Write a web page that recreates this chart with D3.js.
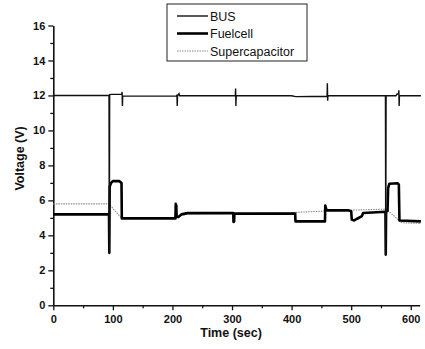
<!DOCTYPE html>
<html>
<head>
<meta charset="utf-8">
<script src="https://cdn.jsdelivr.net/npm/d3@7"></script>
<style>
  body { margin: 0; background: #fff; }
  text { font-family: "Liberation Sans", Arial, sans-serif; fill: #111; }
</style>
</head>
<body>
<div id="chart"></div>
<script>
// series: [time (sec), voltage (V)]
const busData = [[0,12.0],[93.5,12.0],[94,3.0],[94.6,12.05],[98,12.06],[115,12.06],[115.5,12.2],[116,11.4],[116.5,11.96],
  [207,11.96],[207.5,12.05],[208,11.4],[208.5,11.98],[211,12.1],[212,11.98],[305.5,11.98],[306,12.4],[306.5,11.4],[307,11.98],
  [400,11.98],[407,11.93],[459.5,11.95],[460,12.7],[460.5,11.7],[461,11.98],[557.5,11.98],[558,2.9],[558.6,11.98],
  [575,11.98],[577,12.08],[579.5,12.08],[580,12.3],[580.5,11.4],[581,11.98],[617,11.98]];
const fuelcellData = [[0,5.2],[93.5,5.2],[94,3.0],[94.6,6.8],[97,7.0],[100,7.1],[111,7.1],[114.5,7.0],[115,4.97],
  [205,4.97],[205.5,5.8],[206.5,5.7],[207,5.05],[210,5.05],[215,5.2],[225,5.27],[302,5.27],[302.5,4.76],[303.5,4.8],[304,5.24],
  [406,5.24],[406.5,4.8],[456,4.8],[456.5,5.7],[458,5.5],[460,5.43],[495,5.43],[500,5.38],[501,4.9],[505,4.85],[510,4.95],
  [518,5.1],[520,5.28],[557.5,5.35],[558,2.9],[558.6,5.35],[561,5.4],[562,6.7],[564,6.95],[578,6.98],[580,6.9],[581,4.85],[617,4.8]];
const supercapData = [[0,5.8],[94,5.8],[96,5.7],[115,4.97],[205,4.97],[212,5.1],[225,5.22],[300,5.25],[400,5.3],
  [460,5.4],[540,5.48],[558,5.5],[562,5.4],[585,4.72],[617,4.68]];
const seriesNames = ["BUS", "Fuelcell", "Supercapacitor"];
const xTicks = [0, 100, 200, 300, 400, 500, 600];
const yTicks = [0, 2, 4, 6, 8, 10, 12, 14, 16];

const width = 425, height = 349;
const svg = d3.select("#chart").append("svg")
    .attr("width", width)
    .attr("height", height);

const x = d3.scaleLinear().domain([0, 615]).range([53.3, 419.7]);
const y = d3.scaleLinear().domain([0, 16]).range([305.3, 25.5]);

// x axis
const xAxis = svg.append("g")
    .attr("transform", `translate(0,${y(0)})`)
    .call(d3.axisBottom(x).tickValues(xTicks).tickSize(5).tickPadding(5).tickSizeOuter(0));
xAxis.append("g")
    .call(d3.axisBottom(x).tickValues(d3.range(50, 615, 100)).tickSize(3).tickFormat("").tickSizeOuter(0))
    .select(".domain").remove();

// y axis
const yAxis = svg.append("g")
    .attr("transform", `translate(${x(0)},0)`)
    .call(d3.axisLeft(y).tickValues(yTicks).tickSize(5).tickPadding(3).tickSizeOuter(0));
yAxis.append("g")
    .call(d3.axisLeft(y).tickValues(d3.range(1, 16, 2)).tickSize(3).tickFormat("").tickSizeOuter(0))
    .select(".domain").remove();

svg.selectAll(".domain").attr("stroke", "#111").attr("stroke-width", 1.6);
svg.selectAll(".tick line").attr("stroke", "#111").attr("stroke-width", 1.3);
svg.selectAll(".tick text").attr("font-size", 11).attr("font-weight", "bold").attr("fill", "#111");

svg.append("text")
    .attr("x", x(300) - 1)
    .attr("y", 337)
    .attr("text-anchor", "middle")
    .attr("font-size", 12.5)
    .attr("font-weight", "bold")
    .text("Time (sec)");

svg.append("text")
    .attr("transform", `translate(24,${y(8.4)}) rotate(-90)`)
    .attr("text-anchor", "middle")
    .attr("font-size", 12.5)
    .attr("font-weight", "bold")
    .text("Voltage (V)");

const line = d3.line().x(d => x(d[0])).y(d => y(d[1]));

const styles = [
  {stroke: "#111", width: 1.4, dash: null},
  {stroke: "#000", width: 2.6, dash: null},
  {stroke: "#8a8a8a", width: 1.1, dash: "1.5,1"}
];

svg.append("path").datum(supercapData).attr("d", line)
    .attr("fill", "none").attr("stroke", styles[2].stroke).attr("stroke-width", styles[2].width)
    .attr("stroke-dasharray", styles[2].dash);
svg.append("path").datum(fuelcellData).attr("d", line)
    .attr("fill", "none").attr("stroke", styles[1].stroke).attr("stroke-width", styles[1].width)
    .attr("stroke-linejoin", "round");
svg.append("path").datum(busData).attr("d", line)
    .attr("fill", "none").attr("stroke", styles[0].stroke).attr("stroke-width", styles[0].width);

// legend
const legend = svg.append("g").attr("transform", "translate(167,4)");
legend.append("rect")
    .attr("width", 140).attr("height", 57)
    .attr("fill", "#fff").attr("stroke", "#222").attr("stroke-width", 1);
seriesNames.forEach((name, i) => {
  const ly = 12 + i * 17.5;
  legend.append("line")
      .attr("x1", 10).attr("x2", 41).attr("y1", ly).attr("y2", ly)
      .attr("stroke", styles[i].stroke).attr("stroke-width", styles[i].width)
      .attr("stroke-dasharray", styles[i].dash);
  legend.append("text")
      .attr("x", 43).attr("y", ly + 4.5)
      .attr("font-size", 12.5)
      .text(name);
});
</script>
</body>
</html>
